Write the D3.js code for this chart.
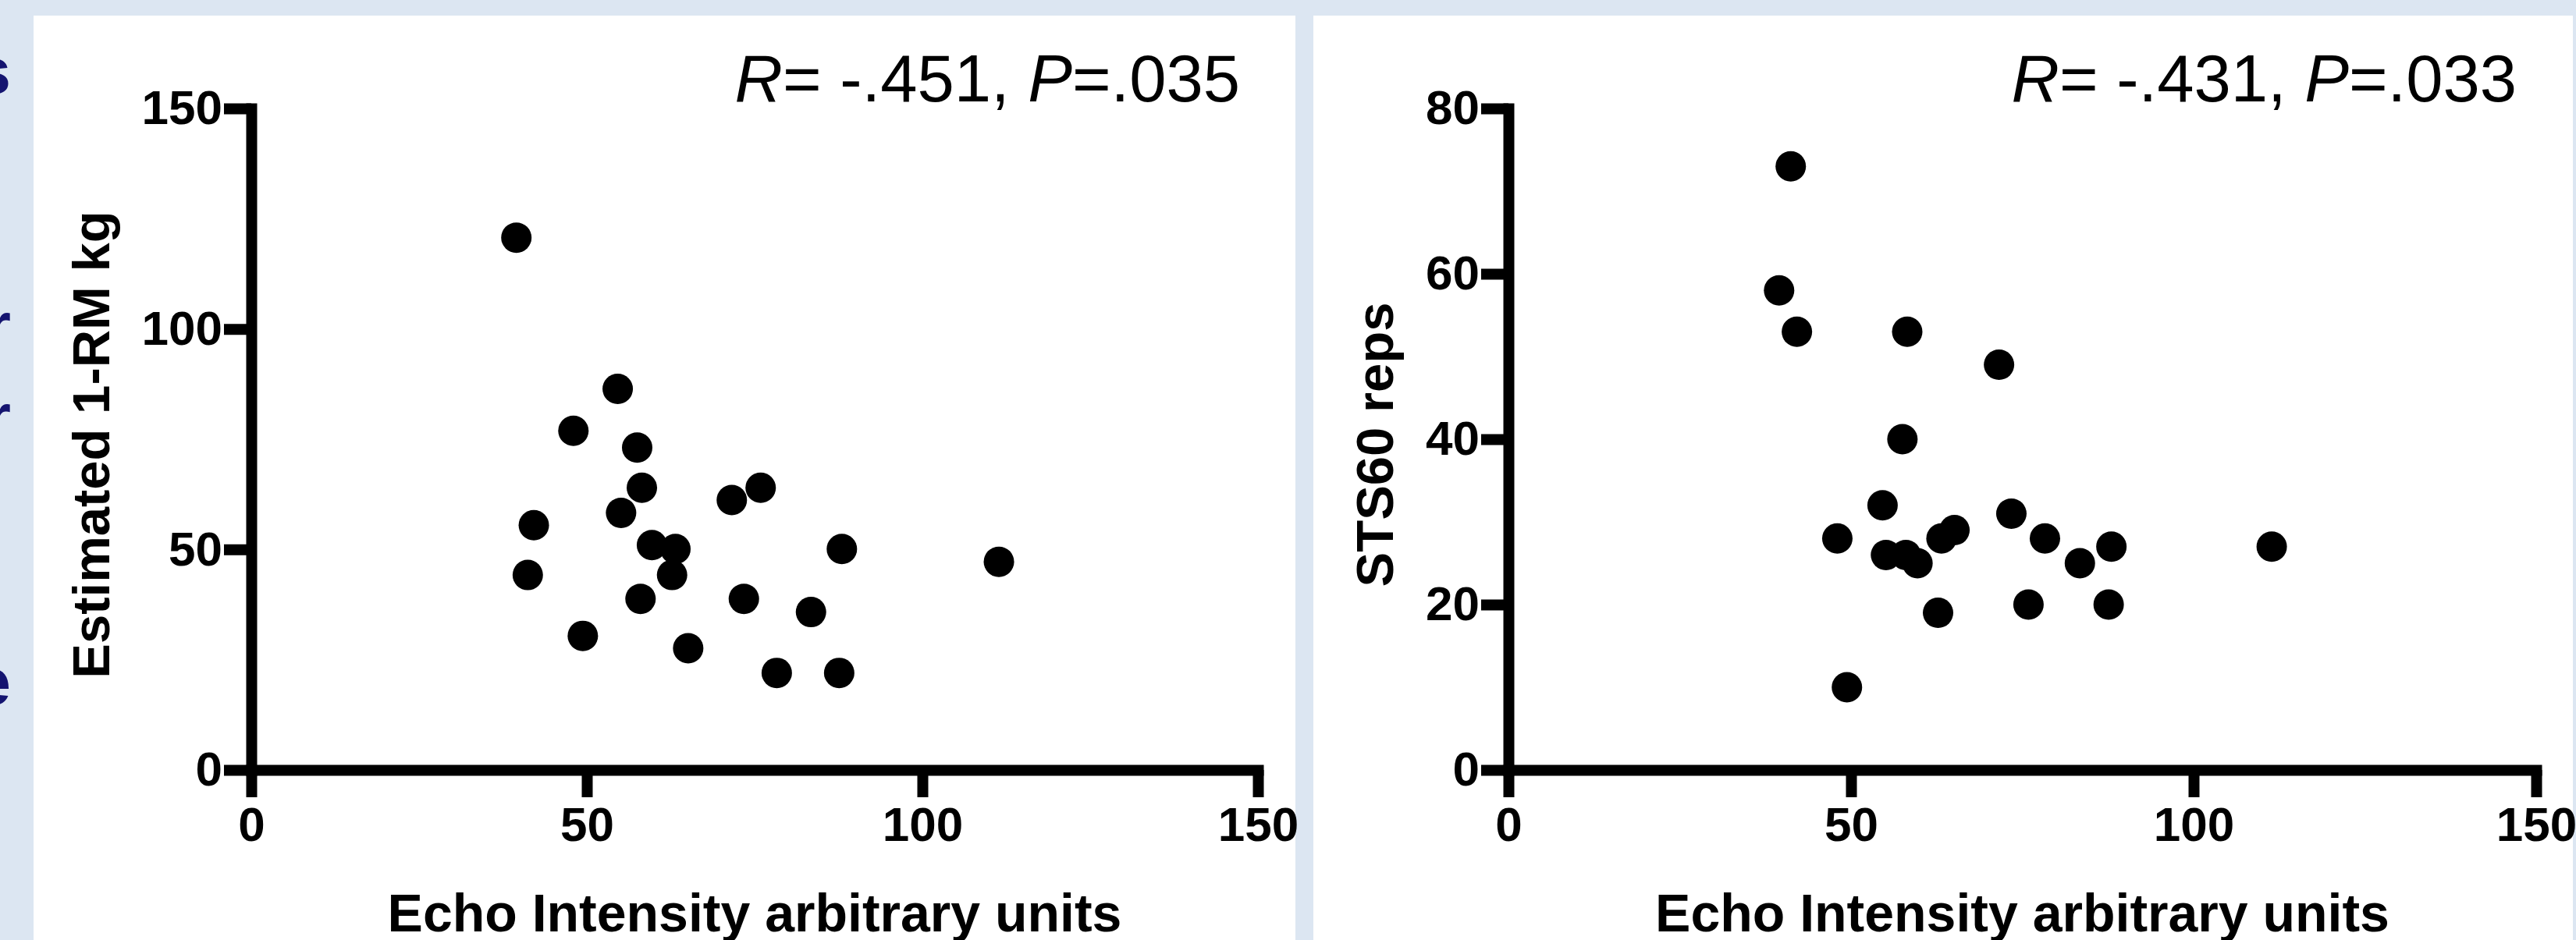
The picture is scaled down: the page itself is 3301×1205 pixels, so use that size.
<!DOCTYPE html>
<html>
<head>
<meta charset="utf-8">
<script src="https://cdn.jsdelivr.net/npm/d3@7"></script>
<style>
  html, body { margin: 0; padding: 0; background: #dce6f2; }
  svg { display: block; }
</style>
</head>
<body>
<svg id="chart" width="3301" height="1205"></svg>
<script>
// ---------------- data ----------------
const echoIntensity = [39.5, 41.2, 42.1, 48.0, 49.4, 54.6, 55.1, 57.5, 58.0, 58.2, 59.7,
                       62.7, 63.2, 65.1, 71.6, 73.4, 75.9, 78.3, 83.4, 87.6, 88.0, 111.4];
const estimated1RM  = [120.7, 44.2, 55.5, 76.9, 30.4, 86.4, 58.3, 73.1, 38.8, 64.0, 51.0,
                       44.2, 50.1, 27.6, 61.2, 38.8, 64.0, 22.0, 35.8, 22.0, 50.1, 47.2];
const sts60Reps     = [58, 73, 53, 28, 10, 32, 26, 40, 26, 53, 25,
                       19, 28, 29, 49, 31, 20, 28, 25, 20, 27, 27];

const xTicks      = [0, 50, 100, 150];
const yTicksLeft  = [0, 50, 100, 150];
const yTicksRight = [0, 20, 40, 60, 80];
const xTitle      = "Echo Intensity arbitrary units";
const yTitles     = ["Estimated 1-RM kg", "STS60 reps"];
const rValues     = ["-.451", "-.431"];
const pValues     = [".035", ".033"];
const edgeLetters = ["s", "r", "r", "e"];

// ---------------- layout ----------------
const svg = d3.select("#chart");
const FONT = "'Liberation Sans', Arial, Helvetica, sans-serif";
const bg = "#dce6f2";

svg.append("rect").attr("width", 3301).attr("height", 1205).attr("fill", bg);

// cut-off letters of neighbouring poster text at the left edge (as in the reference)
const edgeY = [120, 446, 563, 903];
svg.append("g").selectAll("text").data(edgeLetters).join("text")
  .attr("x", 14).attr("y", (d, i) => edgeY[i])
  .attr("text-anchor", "end")
  .attr("font-family", FONT).attr("font-weight", "bold").attr("font-size", 84)
  .attr("fill", "#141470")
  .text(d => d);

// white panels
svg.append("rect").attr("x", 43).attr("y", 20).attr("width", 1660 - 43).attr("height", 1185).attr("fill", "#fff");
svg.append("rect").attr("x", 1683).attr("y", 20).attr("width", 3297 - 1683).attr("height", 1185).attr("fill", "#fff");

const panels = [
  { xr: [322, 1612], yDomain: [0, 150], yTicks: yTicksLeft, ys: estimated1RM,
    yTitleX: 140, annEnd: 1589 },
  { xr: [1933, 3250], yDomain: [0, 80], yTicks: yTicksRight, ys: sts60Reps,
    yTitleX: 1785, annEnd: 3225 }
];
const yRange = [987, 139];

panels.forEach((p, pi) => {
  const x = d3.scaleLinear().domain([0, 150]).range(p.xr);
  const y = d3.scaleLinear().domain(p.yDomain).range(yRange);
  const g = svg.append("g");

  // x axis
  const gx = g.append("g").attr("transform", `translate(0,${yRange[0]})`)
    .call(d3.axisBottom(x).tickValues(xTicks).tickFormat(d3.format("d"))
      .tickSize(35).tickSizeOuter(0).tickPadding(12));
  // y axis
  const gy = g.append("g").attr("transform", `translate(${p.xr[0]},0)`)
    .call(d3.axisLeft(y).tickValues(p.yTicks).tickFormat(d3.format("d"))
      .tickSize(35).tickSizeOuter(0).tickPadding(2));

  [gx, gy].forEach(a => {
    a.select(".domain").attr("stroke", "#000").attr("stroke-width", 14)
      .attr("stroke-linecap", "square").attr("fill", "none");
    a.selectAll(".tick line").attr("stroke", "#000").attr("stroke-width", 14);
    a.selectAll(".tick text").attr("fill", "#000")
      .attr("font-family", FONT).attr("font-weight", "bold").attr("font-size", 62);
  });

  // points
  g.append("g").selectAll("circle").data(echoIntensity).join("circle")
    .attr("cx", d => x(d))
    .attr("cy", (d, i) => y(p.ys[i]))
    .attr("r", 19.5)
    .attr("fill", "#000");

  // x title
  g.append("text")
    .attr("x", (p.xr[0] + p.xr[1]) / 2).attr("y", 1194)
    .attr("text-anchor", "middle")
    .attr("font-family", FONT).attr("font-weight", "bold").attr("font-size", 68)
    .attr("fill", "#000")
    .text(xTitle);

  // y title
  g.append("text")
    .attr("transform", `translate(${p.yTitleX},570) rotate(-90)`)
    .attr("text-anchor", "middle")
    .attr("font-family", FONT).attr("font-weight", "bold").attr("font-size", 67)
    .attr("fill", "#000")
    .text(yTitles[pi]);

  // annotation
  const ann = g.append("text")
    .attr("x", p.annEnd).attr("y", 130)
    .attr("text-anchor", "end")
    .attr("font-family", FONT).attr("font-size", 85)
    .attr("fill", "#000");
  ann.append("tspan").attr("font-style", "italic").text("R");
  ann.append("tspan").text("= " + rValues[pi] + ", ");
  ann.append("tspan").attr("font-style", "italic").text("P");
  ann.append("tspan").text("=" + pValues[pi]);
});
</script>
</body>
</html>
